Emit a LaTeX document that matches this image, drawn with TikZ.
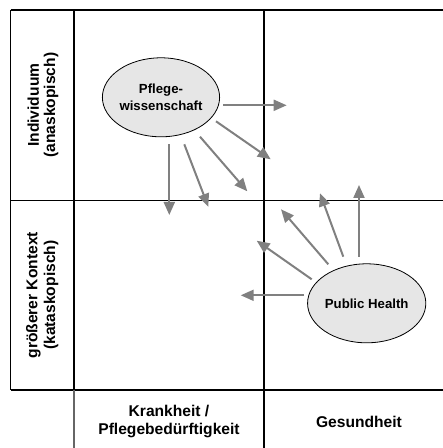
\documentclass[tikz,border=0pt]{standalone}
\usepackage{fontspec}
\setmainfont{Liberation Sans}
\usetikzlibrary{arrows.meta,shapes.geometric}
\definecolor{arrowgray}{RGB}{128,128,128}
\definecolor{fieldgray}{RGB}{230,230,230}
\tikzset{
  gridline/.style={line width=1.2pt, color=black},
  softline/.style={line width=1.2pt, color=black!60},
  field/.style={ellipse, draw=black, line width=0.8pt, fill=fieldgray, minimum width=111pt, minimum height=79pt, inner sep=0pt, align=center, font=\fontsize{13.2}{16.5}\selectfont\bfseries},
  axislabel/.style={align=center, inner sep=0pt, font=\fontsize{15.6}{17.8}\selectfont\bfseries},
  sidelabel/.style={inner sep=0pt, rotate=90, font=\fontsize{15.6}{17.8}\selectfont\bfseries},
  flow/.style={line width=2pt, color=arrowgray, -{Triangle[length=13pt,width=11pt]}}
}
\begin{document}
\begin{tikzpicture}[x=1pt,y=1pt]
\useasboundingbox (0,0) rectangle (443,448);
% grid
\draw[gridline] (10.5,438) -- (443,438);
\draw[gridline] (10.5,247.5) -- (443,247.5);
\draw[gridline] (10.5,58) -- (443,58);
\draw[gridline] (10.5,438) -- (10.5,58);
\draw[gridline] (74,438) -- (74,58);
\draw[gridline] (264,438) -- (264,58);
\draw[softline] (74,58) -- (74,0);
\draw[gridline] (264,58) -- (264,0);
% axis labels
\node[sidelabel] (ind1) at (33.4,342.8) {Individuum};
\node[sidelabel] (ind2) at (51.2,342.8) {(anaskopisch)};
\node[sidelabel] (ctx1) at (33.4,152.8) {größerer Kontext};
\node[sidelabel] (ctx2) at (51.2,152.8) {(kataskopisch)};
\node[axislabel] (krank) at (169,26.5) {Krankheit /\\Pflegebedürftigkeit};
\node[axislabel] (gesund) at (359,26.5) {Gesundheit};
% ellipses
\node[field] (pw) at (161,350.7) {Pflege-\\wissenschaft};
\node[field] (ph) at (366.7,144.7) {Public Health};
% arrow end points
\coordinate (s1) at (223.3,342.7);
\coordinate (s2) at (216,326.7);
\coordinate (s3) at (200,311.3);
\coordinate (s4) at (184.3,303.7);
\coordinate (s5) at (169.3,303.7);
\coordinate (t1) at (286.7,342.7);
\coordinate (t2) at (270.7,288.7);
\coordinate (t3) at (247.3,256.7);
\coordinate (t4) at (208.3,241.3);
\coordinate (t5) at (169.3,233);
\coordinate (v1) at (304,152.7);
\coordinate (v2) at (311.7,168.7);
\coordinate (v3) at (328.3,183.7);
\coordinate (v4) at (343.3,191.3);
\coordinate (v5) at (359,191.3);
\coordinate (u1) at (240.7,152.7);
\coordinate (u2) at (256.7,207.3);
\coordinate (u3) at (281,238.7);
\coordinate (u4) at (320,254.7);
\coordinate (u5) at (359,263);
% arrows
\draw[flow] (s1) -- (t1);
\draw[flow] (s2) -- (t2);
\draw[flow] (s3) -- (t3);
\draw[flow] (s4) -- (t4);
\draw[flow] (s5) -- (t5);
\draw[flow] (v1) -- (u1);
\draw[flow] (v2) -- (u2);
\draw[flow] (v3) -- (u3);
\draw[flow] (v4) -- (u4);
\draw[flow] (v5) -- (u5);
\end{tikzpicture}
\end{document}
